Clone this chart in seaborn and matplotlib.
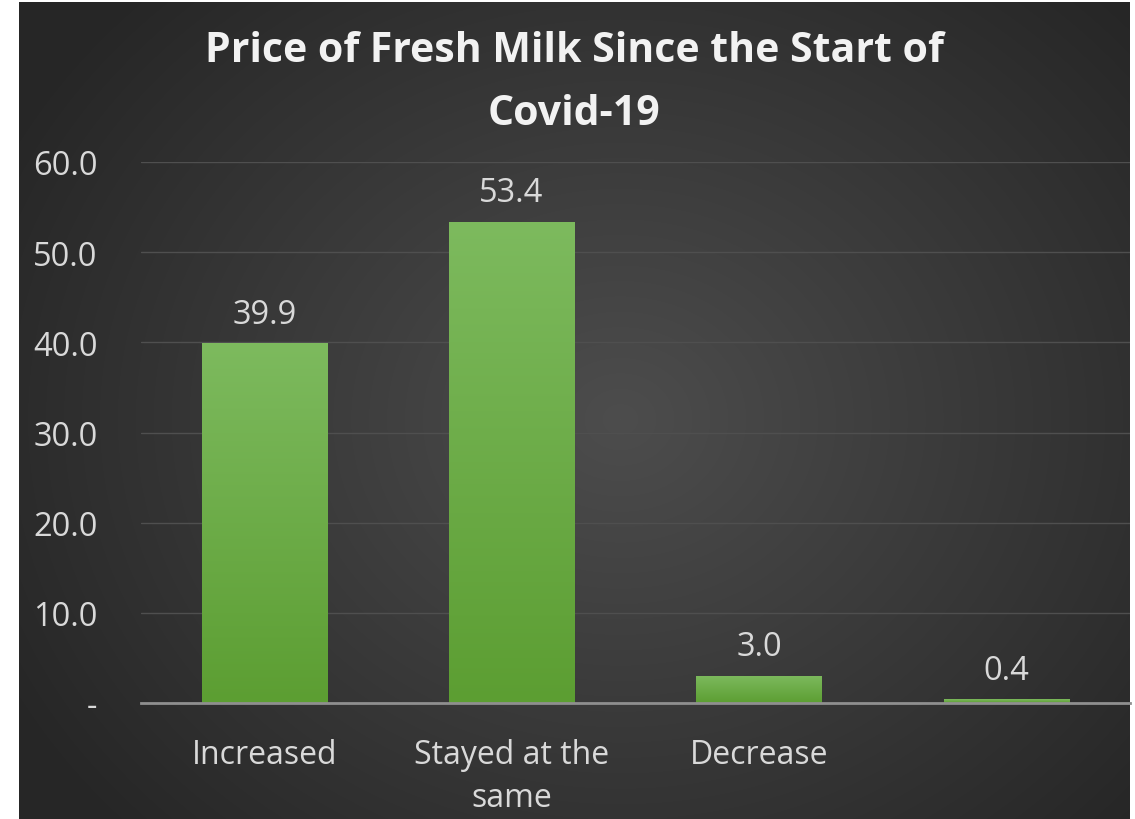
import numpy as np
import pandas as pd
import matplotlib
matplotlib.use("Agg")
import matplotlib.pyplot as plt
import seaborn as sns

categories = ["Increased", "Stayed at the\nsame", "Decrease", ""]
values = [39.9, 53.4, 3.0, 0.4]
ytick_values = [0, 10, 20, 30, 40, 50, 60]
ytick_labels = ["-", "10.0", "20.0", "30.0", "40.0", "50.0", "60.0"]
title = "Price of Fresh Milk Since the Start of\nCovid-19"

sns.set_theme(style="dark")
plt.rcParams["font.family"] = ["Open Sans", "DejaVu Sans"]

W, H = 1135, 820
fig = plt.figure(figsize=(W / 100, H / 100), dpi=100, facecolor="white")

# background radial gradient (chart area leaves a white strip at left/top/right)
bx0, bx1, by0, by1 = 19, 1130, 3, 820
bg = fig.add_axes([bx0 / W, 1 - by1 / H, (bx1 - bx0) / W, (by1 - by0) / H], zorder=-10)
yy, xx = np.mgrid[by0:by1, bx0:bx1]
r = np.sqrt(((xx - 620) / 700.0) ** 2 + ((yy - 420) / 600.0) ** 2)
r = np.clip(r, 0, 1)
inner = np.array([0x4d, 0x4d, 0x4d]) / 255.0
outer = np.array([0x26, 0x26, 0x26]) / 255.0
img = inner[None, None, :] * (1 - r[..., None]) + outer[None, None, :] * r[..., None]
bg.imshow(img, aspect="auto", extent=[0, 1, 0, 1])
bg.axis("off")

ax = fig.add_axes([140.5 / W, 1 - 704 / H, (1130 - 140.5) / W, (704 - 163) / H])
ax.patch.set_alpha(0)

df = pd.DataFrame({"cat": categories, "val": values})
sns.barplot(data=df, x="cat", y="val", ax=ax, color="#66a83d", width=0.506,
            saturation=1, zorder=3, linewidth=0)

# gradient overlay on bars
for p in ax.patches:
    x0, y0 = p.get_x(), p.get_y()
    w, h = p.get_width(), p.get_height()
    grad = np.linspace(0, 1, 256)[:, None]
    top = np.array([0x7d, 0xba, 0x5e]) / 255.0
    bot = np.array([0x5c, 0x9e, 0x32]) / 255.0
    g = top[None, None, :] * (1 - grad[..., None]) + bot[None, None, :] * grad[..., None]
    g = np.repeat(g, 2, axis=1)
    im = ax.imshow(g, extent=[x0, x0 + w, y0, y0 + h], aspect="auto", zorder=4)
    im.set_clip_path(p)

ax.set_xlim(-0.5, 3.5)
ax.set_ylim(0, 60)
ax.set_yticks(ytick_values)
ax.set_yticklabels(ytick_labels)
ax.set_xlabel("")
ax.set_ylabel("")
ax.grid(axis="y", color="#4f4f4f", linewidth=1, zorder=0)
ax.grid(axis="x", visible=False)
for s in ["top", "right", "left"]:
    ax.spines[s].set_visible(False)
ax.spines["bottom"].set_color("#8f8f8f")
ax.spines["bottom"].set_linewidth(2)
ax.spines["bottom"].set_zorder(5)
ax.tick_params(axis="y", colors="#d9d9d9", labelsize=23.5, length=0, pad=31)
ax.tick_params(axis="x", colors="#d9d9d9", labelsize=23, length=0, pad=25)
for t in ax.get_xticklabels():
    t.set_linespacing(1.4)
    t.set_verticalalignment("top")

ax.bar_label(ax.containers[0], labels=[f"{v:.1f}" for v in values],
             padding=9, color="#d9d9d9", fontsize=23.5, zorder=6)

fig.text(574 / W, 1 - 83 / H, title, ha="center", va="center", fontsize=29.5,
         fontweight="bold", color="#f2f2f2", linespacing=1.72)

fig.savefig("out.png", dpi=100, facecolor="white")
